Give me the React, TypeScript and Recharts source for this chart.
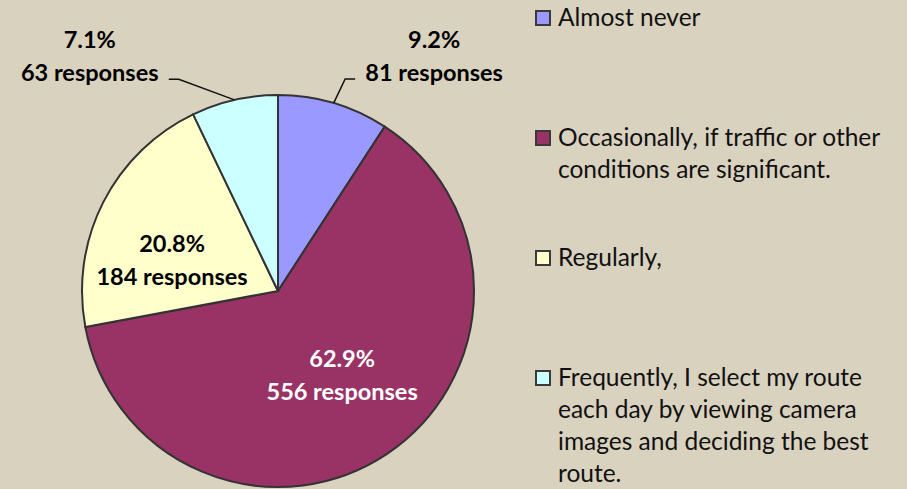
import { PieChart, Pie, Cell, Legend } from 'recharts'

const categories = [
  'Almost never',
  'Occasionally, if traffic or other conditions are significant.',
  'Regularly,',
  'Frequently, I select my route each day by viewing camera images and deciding the best route.',
]
const responses = [81, 556, 184, 63]
const sliceColors = ['#9999FF', '#993366', '#FFFFCC', '#CCFFFF']

const total = responses.reduce((s, v) => s + v, 0)
const chartData = categories.map((name, i) => ({ name, value: responses[i], color: sliceColors[i] }))

// where each data label sits, relative to its slice
const labelSpots = [
  { k: 1.44, dA: -17.1, outside: 'right', color: '#000' },
  { k: 0.54, dA: 3.5, outside: '', color: '#fff' },
  { k: 0.563, dA: 10.6, outside: '', color: '#000' },
  { k: 1.535, dA: 25.9, outside: 'left', color: '#000' },
]

const BG = '#D9D2BF'
const FONT = 'Lato, "Noto Sans", sans-serif'
const RADIAN = Math.PI / 180

const polar = (cx: number, cy: number, r: number, angle: number) => ({
  x: cx + r * Math.cos(-angle * RADIAN),
  y: cy + r * Math.sin(-angle * RADIAN),
})

const renderLabel = (entry: any) => {
  const { cx, cy, midAngle, outerRadius, index, value } = entry
  const spot = labelSpots[index]
  const p = polar(cx, cy, outerRadius * spot.k, midAngle + spot.dA)
  const pct = `${((value / total) * 100).toFixed(1)}%`
  let line = null
  if (spot.outside) {
    const start = polar(cx, cy, outerRadius, midAngle)
    const ly = p.y + 23
    const halfW = 79
    const endX = spot.outside === 'right' ? p.x - halfW : p.x + halfW
    const elbowX = spot.outside === 'right' ? endX - 10 : endX + 10
    line = (
      <polyline
        points={`${start.x},${start.y} ${elbowX},${ly} ${endX},${ly}`}
        fill="none"
        stroke="#111"
        strokeWidth={1.5}
      />
    )
  }
  return (
    <g>
      {line}
      <text
        x={p.x}
        y={p.y}
        fill={spot.color}
        textAnchor="middle"
        fontFamily={FONT}
        fontSize={23.5}
        fontWeight="bold"
      >
        <tspan x={p.x} dy={-8}>{pct}</tspan>
        <tspan x={p.x} dy={33}>{value} responses</tspan>
      </text>
    </g>
  )
}

const LegendBox = () => (
  <div style={{ fontFamily: FONT, fontSize: 24.5, color: '#111', lineHeight: '32px' }}>
    {chartData.map((d) => (
      <div key={d.name} style={{ display: 'flex', alignItems: 'flex-start', height: 120 }}>
        <div
          style={{
            width: 12,
            height: 12,
            marginTop: 9,
            marginRight: 7,
            background: d.color,
            border: '2px solid #3a3a3a',
            flexShrink: 0,
          }}
        />
        <div style={{ width: 340 }}>{d.name}</div>
      </div>
    ))}
  </div>
)

export default function App() {
  return (
    <div style={{ position: 'absolute', left: 0, top: 0, width: 907, height: 489, background: BG, overflow: 'hidden' }}>
      <PieChart width={907} height={489} margin={{ top: 0, right: 0, bottom: 0, left: 0 }}>
        <Pie
          data={chartData}
          dataKey="value"
          nameKey="name"
          cx={278}
          cy={291}
          outerRadius={196}
          startAngle={90}
          endAngle={-270}
          stroke="#333"
          strokeWidth={2}
          label={renderLabel}
          labelLine={false}
          isAnimationActive={false}
        >
          {chartData.map((d, i) => (
            <Cell key={`cell-${i}`} fill={d.color} />
          ))}
        </Pie>
        <Legend
          layout="vertical"
          verticalAlign="top"
          align="right"
          content={() => <LegendBox />}
          wrapperStyle={{ left: 535, top: 1, width: 372 }}
        />
      </PieChart>
    </div>
  )
}
